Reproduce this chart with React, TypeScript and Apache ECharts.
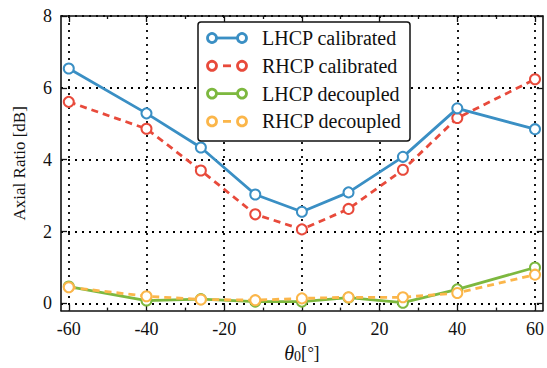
import React, { useEffect, useRef } from "react";
import * as echarts from "echarts";

const thetaValues = [-60, -40, -26, -12, 0, 12, 26, 40, 60];
const lhcpCalibrated = [6.54, 5.29, 4.34, 3.03, 2.55, 3.09, 4.08, 5.43, 4.85];
const rhcpCalibrated = [5.61, 4.86, 3.7, 2.48, 2.06, 2.63, 3.72, 5.16, 6.24];
const lhcpDecoupled = [0.47, 0.08, 0.12, 0.05, 0.05, 0.16, 0.02, 0.39, 1.0];
const rhcpDecoupled = [0.45, 0.2, 0.11, 0.09, 0.14, 0.17, 0.17, 0.29, 0.8];

const seriesNames = ["LHCP calibrated", "RHCP calibrated", "LHCP decoupled", "RHCP decoupled"];
const seriesColors = ["#3a8fc4", "#e84a3b", "#7db83f", "#fbb64a"];
const seriesDashed = [false, true, false, true];
const seriesData = [lhcpCalibrated, rhcpCalibrated, lhcpDecoupled, rhcpDecoupled];

const xMajorTicks = [-60, -40, -20, 0, 20, 40, 60];
const xMinorTicks = [-50, -30, -10, 10, 30, 50];
const yMajorTicks = [0, 2, 4, 6, 8];

const FONT = "'Liberation Serif', 'Times New Roman', serif";
const TEXT = "#111";

export default function App() {
  const ref = useRef<HTMLDivElement>(null);
  useEffect(() => {
    if (!ref.current) return;
    const chart = echarts.init(ref.current, null, { renderer: "svg" });
    const dotted = { color: "#000", width: 1.8, type: [2, 5] as number[] };
    const baseX = { type: "value", min: -62, max: 62, splitLine: { show: false }, axisLabel: { show: false } };

    const legendGraphics: any[] = [
      {
        type: "rect",
        shape: { x: 198, y: 22, width: 212, height: 119, r: 3 },
        style: { fill: "#fff", stroke: "#111", lineWidth: 1.5 },
        z: 100,
      },
    ];
    seriesNames.forEach((name, i) => {
      const y = 38 + i * 27.8;
      const c = seriesColors[i];
      legendGraphics.push({
        type: "line",
        shape: seriesDashed[i] ? { x1: 223, y1: y, x2: 231, y2: y } : { x1: 216, y1: y, x2: 238, y2: y },
        style: { stroke: c, lineWidth: 2.8 },
        z: 101,
      });
      [212, 242].forEach((cx) =>
        legendGraphics.push({
          type: "circle",
          shape: { cx, cy: y, r: 4.5 },
          style: { fill: "#fff", stroke: c, lineWidth: 2.8 },
          z: 102,
        })
      );
      legendGraphics.push({
        type: "text",
        x: 262,
        y,
        style: { text: name, font: `20px ${FONT}`, fill: TEXT, verticalAlign: "middle", align: "left" },
        z: 102,
      });
    });

    chart.setOption({
      animation: false,
      backgroundColor: "#fff",
      grid: { left: 61, right: 2, top: 16, bottom: 56, containLabel: false },
      xAxis: [
        {
          ...baseX,
          position: "bottom",
          axisLine: { show: true, onZero: false, lineStyle: { color: "#111", width: 1.6 } },
          axisTick: { show: true, inside: true, length: 6, customValues: xMajorTicks, lineStyle: { color: "#111", width: 1.3 } },
          axisLabel: { show: true, customValues: xMajorTicks, fontSize: 18, fontFamily: FONT, color: TEXT, margin: 9 },
          splitLine: { show: true, lineStyle: dotted },
          name: "{i|θ}{s|0}{n|[}{d|°}{n|]}",
          nameLocation: "middle",
          nameGap: 31,
          nameTextStyle: {
            rich: {
              i: { fontSize: 20, fontStyle: "italic", fontFamily: FONT, color: TEXT },
              s: { fontSize: 14, fontFamily: FONT, color: TEXT, verticalAlign: "bottom", padding: [7, 0, 0, 0] },
              n: { fontSize: 18, fontFamily: FONT, color: TEXT },
              d: { fontSize: 16, fontStyle: "italic", fontFamily: FONT, color: TEXT },
            },
          },
        },
        {
          ...baseX,
          position: "bottom",
          axisLine: { show: false, onZero: false },
          axisTick: { show: true, inside: true, length: 3, customValues: xMinorTicks, lineStyle: { color: "#111", width: 1.3 } },
        },
        {
          ...baseX,
          position: "top",
          axisLine: { show: true, onZero: false, lineStyle: { color: "#111", width: 1.6 } },
          axisTick: { show: true, inside: true, length: 6, customValues: xMajorTicks, lineStyle: { color: "#111", width: 1.3 } },
        },
        {
          ...baseX,
          position: "top",
          axisLine: { show: false, onZero: false },
          axisTick: { show: true, inside: true, length: 3, customValues: xMinorTicks, lineStyle: { color: "#111", width: 1.3 } },
        },
      ],
      yAxis: [
        {
          type: "value",
          min: -0.2,
          max: 8,
          position: "left",
          axisLine: { show: true, onZero: false, lineStyle: { color: "#111", width: 1.6 } },
          axisTick: { show: true, inside: true, length: 6, customValues: yMajorTicks, lineStyle: { color: "#111", width: 1.3 } },
          axisLabel: { show: true, customValues: yMajorTicks, fontSize: 18, fontFamily: FONT, color: TEXT, margin: 9 },
          splitLine: { show: true, lineStyle: dotted },
          name: "Axial Ratio [dB]",
          nameLocation: "middle",
          nameGap: 33,
          nameTextStyle: { fontSize: 17, fontFamily: FONT, color: TEXT },
        },
        {
          type: "value",
          min: -0.2,
          max: 8,
          position: "right",
          axisLine: { show: true, onZero: false, lineStyle: { color: "#111", width: 1.6 } },
          axisTick: { show: true, inside: true, length: 6, customValues: yMajorTicks, lineStyle: { color: "#111", width: 1.3 } },
          axisLabel: { show: false },
          splitLine: { show: false },
        },
      ],
      series: seriesNames.map((name, i) => ({
        name,
        type: "line",
        xAxisIndex: 0,
        yAxisIndex: 0,
        data: thetaValues.map((x, j) => [x, seriesData[i][j]]),
        symbol: "emptyCircle",
        symbolSize: 10,
        z: [4, 3, 5, 6][i],
        lineStyle: { color: seriesColors[i], width: 2.8, type: seriesDashed[i] ? [7, 5] : "solid" },
        itemStyle: { color: seriesColors[i], borderColor: seriesColors[i], borderWidth: 2.8 },
      })),
      graphic: legendGraphics,
    });
    return () => chart.dispose();
  }, []);
  return <div ref={ref} style={{ position: "fixed", left: 0, top: 0, width: 547, height: 368 }} />;
}
